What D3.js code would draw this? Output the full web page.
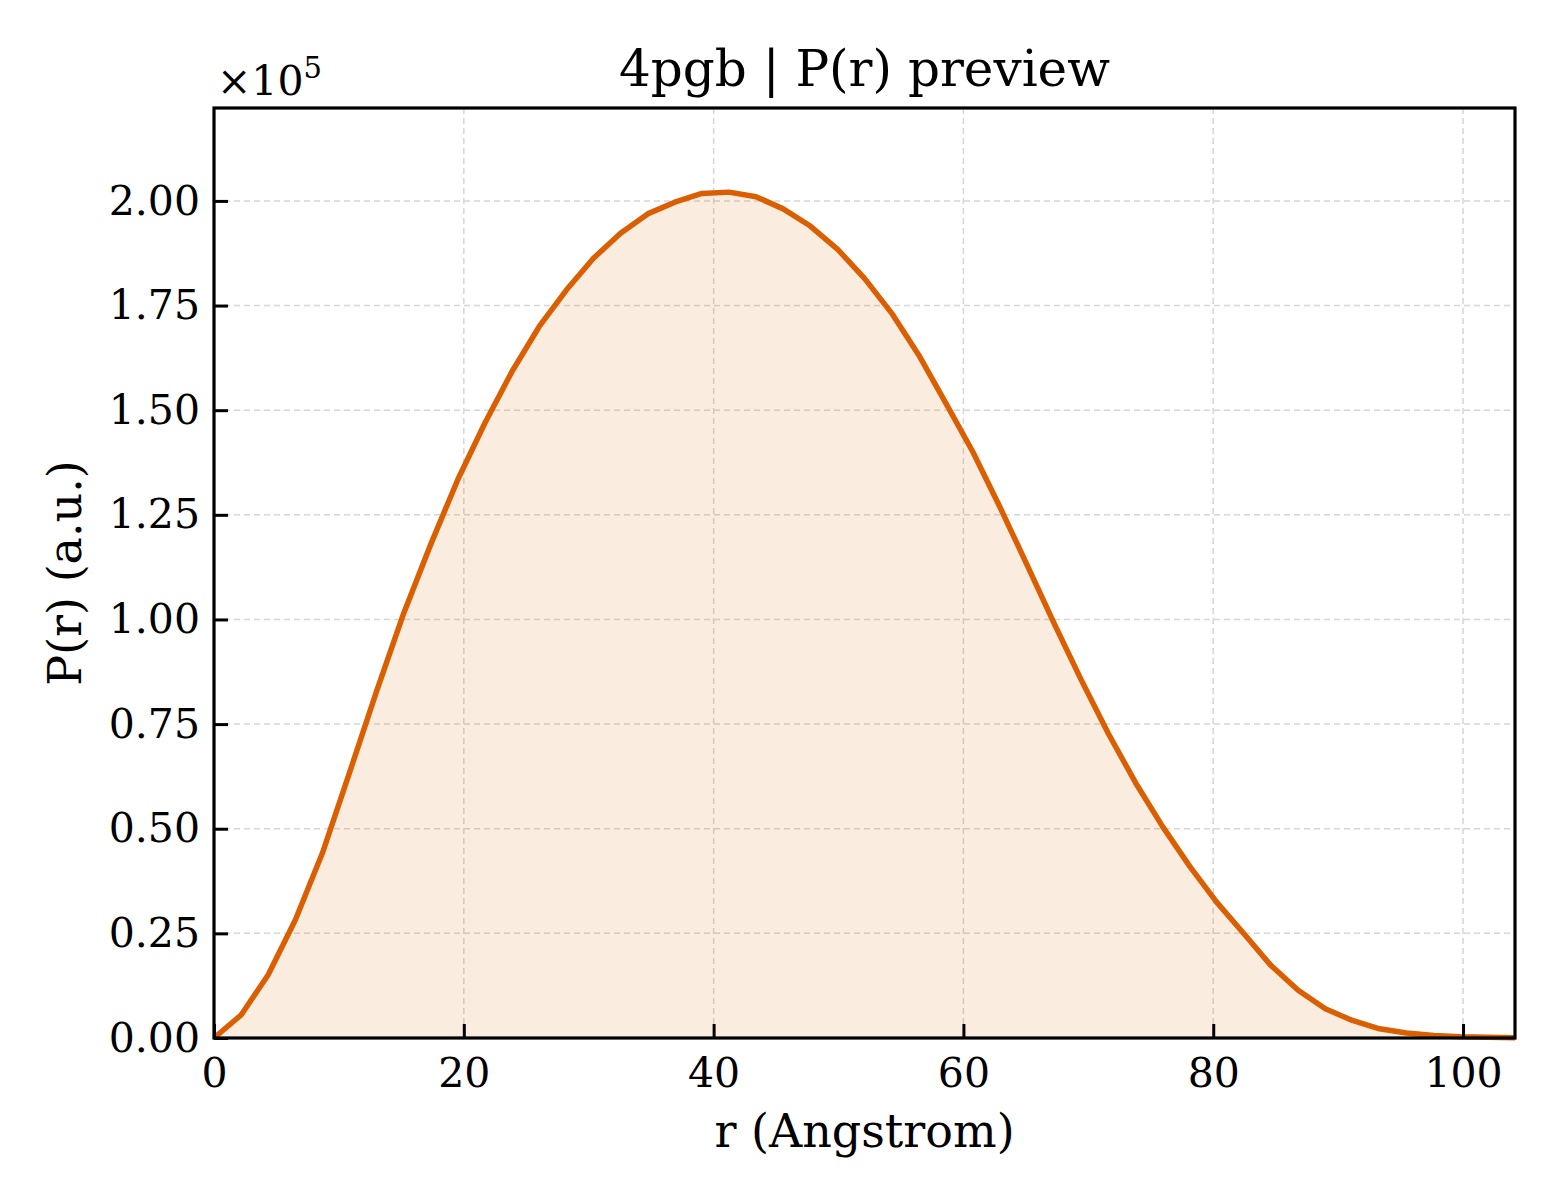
<!DOCTYPE html>
<head>
  <meta charset="utf-8">
  <script src="https://d3js.org/d3.v7.min.js"></script>
  <style>
    body { margin: 0; background: #fff; }
    svg { font-family: "DejaVu Serif", serif; }
  </style>
</head>
<body>
  <svg width="1560" height="1200"></svg>
  <script>
    // P(r) samples (r in Angstrom, P in units of 1e5)
    var rValues = [0, 2.17, 4.34, 6.51, 8.68, 10.85, 13.02, 15.19, 17.36, 19.53,
      21.70, 23.87, 26.04, 28.21, 30.38, 32.55, 34.72, 36.89, 39.06, 41.23,
      43.40, 45.57, 47.74, 49.91, 52.08, 54.25, 56.42, 58.59, 60.76, 62.93,
      65.10, 67.27, 69.44, 71.61, 73.78, 75.95, 78.12, 80.29, 82.46, 84.63,
      86.80, 88.97, 91.14, 93.31, 95.48, 97.65, 99.82, 101.99, 104.16];
    var prValues = [0, 0.055, 0.151, 0.282, 0.442, 0.634, 0.829, 1.015, 1.180, 1.335,
      1.470, 1.593, 1.700, 1.787, 1.863, 1.923, 1.969, 1.997, 2.018, 2.021,
      2.010, 1.981, 1.940, 1.885, 1.815, 1.732, 1.632, 1.517, 1.400, 1.268,
      1.130, 0.990, 0.855, 0.727, 0.610, 0.505, 0.410, 0.324, 0.249, 0.173,
      0.114, 0.070, 0.042, 0.022, 0.012, 0.006, 0.003, 0.0015, 0.0008];
    var xTicks = [0, 20, 40, 60, 80, 100];
    var yTicks = [0, 0.25, 0.5, 0.75, 1.0, 1.25, 1.5, 1.75, 2.0];

    var margin = {left: 214, top: 108, right: 45, bottom: 162};
    var width = 1560 - margin.left - margin.right;
    var height = 1200 - margin.top - margin.bottom;
    var lineColor = '#da5f02';

    var svg = d3.select('svg');
    var g = svg.append('g')
      .attr('transform', 'translate(' + [margin.left, margin.top] + ')');

    var x = d3.scaleLinear().domain([0, 104.16]).range([0, width]);
    var y = d3.scaleLinear().domain([0, 2.222]).range([height, 0]);

    var data = rValues.map(function(r, i) { return {r: r, p: prValues[i]}; });

    // grid
    g.append('g').selectAll('line.vg')
      .data(xTicks).enter().append('line')
      .attr('x1', function(d) { return x(d); }).attr('x2', function(d) { return x(d); })
      .attr('y1', 0).attr('y2', height)
      .attr('stroke', '#d6d6d6').attr('stroke-width', 1.5)
      .attr('stroke-dasharray', '6,4');
    g.append('g').selectAll('line.hg')
      .data(yTicks).enter().append('line')
      .attr('y1', function(d) { return y(d); }).attr('y2', function(d) { return y(d); })
      .attr('x1', 0).attr('x2', width)
      .attr('stroke', '#d6d6d6').attr('stroke-width', 1.5)
      .attr('stroke-dasharray', '6,4');

    // fill + line
    var area = d3.area()
      .x(function(d) { return x(d.r); })
      .y0(y(0))
      .y1(function(d) { return y(d.p); });
    var line = d3.line()
      .x(function(d) { return x(d.r); })
      .y(function(d) { return y(d.p); });

    g.append('path').datum(data)
      .attr('d', area)
      .attr('fill', lineColor)
      .attr('fill-opacity', 0.12);
    g.append('path').datum(data)
      .attr('d', line)
      .attr('fill', 'none')
      .attr('stroke', lineColor)
      .attr('stroke-width', 5.5)
      .attr('stroke-linejoin', 'round');

    // axes, ticks pointing inward
    var xAxis = d3.axisBottom(x).tickValues(xTicks)
      .tickSize(-14).tickPadding(20)
      .tickFormat(d3.format('d'));
    var yAxis = d3.axisLeft(y).tickValues(yTicks)
      .tickSize(-14).tickPadding(14)
      .tickFormat(d3.format('.2f'));

    var gx = g.append('g').attr('transform', 'translate(0,' + height + ')').call(xAxis);
    var gy = g.append('g').call(yAxis);
    [gx, gy].forEach(function(ax) {
      ax.select('.domain').remove();
      ax.selectAll('.tick line').attr('stroke', '#000').attr('stroke-width', 3);
      ax.selectAll('.tick text')
        .attr('font-family', '"DejaVu Serif", serif')
        .attr('font-size', 41)
        .attr('fill', '#000');
    });

    // frame
    g.append('rect')
      .attr('width', width).attr('height', height)
      .attr('fill', 'none')
      .attr('stroke', '#000').attr('stroke-width', 3.2);

    // offset text
    var off = svg.append('text')
      .attr('x', margin.left + 3).attr('y', 95)
      .attr('font-size', 41);
    off.append('tspan').text('\u00d710');
    off.append('tspan').attr('dy', -17).attr('font-size', 29).text('5');

    // title and labels
    svg.append('text')
      .attr('x', margin.left + width / 2).attr('y', 86)
      .attr('text-anchor', 'middle')
      .attr('font-size', 50)
      .text('4pgb | P(r) preview');
    svg.append('text')
      .attr('x', margin.left + width / 2).attr('y', 1147)
      .attr('text-anchor', 'middle')
      .attr('font-size', 46)
      .text('r (Angstrom)');
    svg.append('text')
      .attr('transform', 'translate(81,' + (margin.top + height / 2) + ')rotate(-90)')
      .attr('text-anchor', 'middle')
      .attr('font-size', 46)
      .text('P(r) (a.u.)');
  </script>
</body>
